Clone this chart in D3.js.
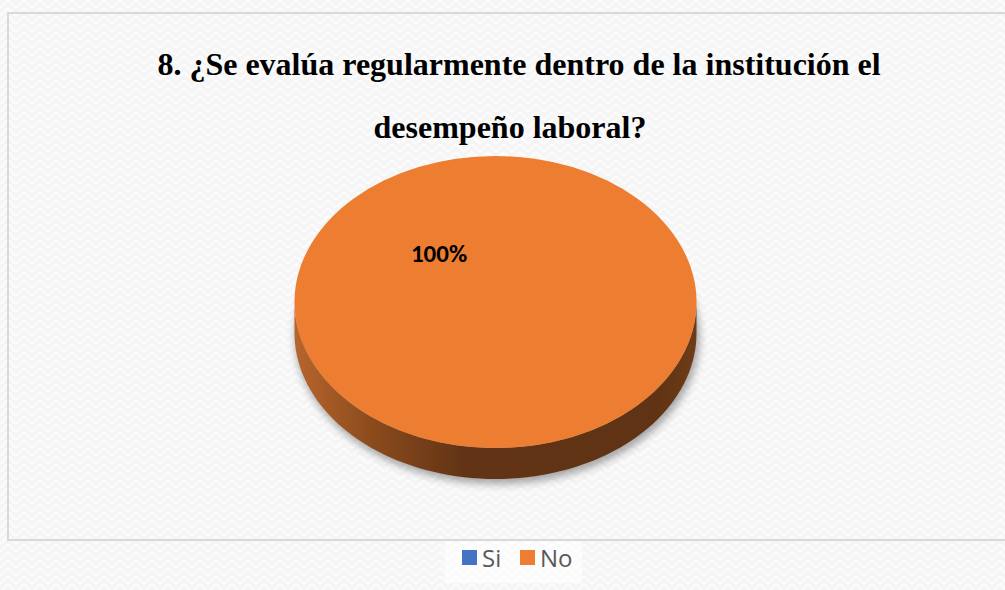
<!DOCTYPE html>
<html>
<head>
<meta charset="utf-8">
<script src="https://cdn.jsdelivr.net/npm/d3@7"></script>
<style>
  body { margin: 0; background: #fff; }
</style>
</head>
<body>
<div id="chart"></div>
<script>
const width = 1005, height = 590;

// chart data
const categories = ["Si", "No"];
const values = [0, 100];
const colors = ["#4472c4", "#ed7d31"];
const titleLines = ["8. ¿Se evalúa regularmente dentro de la institución el", "desempeño laboral?"];

const cx = 495.5, cy = 302, rx = 201, ry = 146, depth = 31;

const svg = d3.select('#chart').append('svg')
    .attr('width', width)
    .attr('height', height);

const defs = svg.append('defs');

// textured background
const pat = defs.append('pattern')
    .attr('id', 'bgpat')
    .attr('patternUnits', 'userSpaceOnUse')
    .attr('width', 16).attr('height', 16);
pat.append('rect').attr('width', 16).attr('height', 16).attr('fill', '#f5f5f5');
pat.append('path')
    .attr('d', 'M0,8 L8,0 L16,8 M0,16 L8,8 L16,16')
    .attr('stroke', '#fcfcfc').attr('stroke-width', 2.5).attr('fill', 'none');

const sideGrad = defs.append('linearGradient')
    .attr('id', 'side')
    .attr('x1', 0).attr('x2', 1).attr('y1', 0).attr('y2', 0);
[[0, '#b7652c'], [0.2, '#8a4a1c'], [0.42, '#623415'], [0.9, '#5f3314'], [1, '#6e3c17']]
    .forEach(([o, c]) => sideGrad.append('stop').attr('offset', o).attr('stop-color', c));

const blur = defs.append('filter').attr('id', 'shadow')
    .attr('x', '-10%').attr('y', '-10%').attr('width', '120%').attr('height', '130%');
blur.append('feGaussianBlur').attr('stdDeviation', 4);

svg.append('rect').attr('width', width).attr('height', height).attr('fill', 'url(#bgpat)');

// plot area border
svg.append('rect')
    .attr('x', 8).attr('y', 13)
    .attr('width', width + 10).attr('height', 527)
    .attr('fill', 'none')
    .attr('stroke', '#d9d9d9').attr('stroke-width', 2);

// title
svg.append('g').selectAll('text')
    .data(titleLines)
    .join('text')
    .attr('x', (d, i) => i === 0 ? 519 : 510)
    .attr('y', (d, i) => 75 + i * 63)
    .attr('text-anchor', 'middle')
    .attr('font-family', '"Liberation Serif", "Times New Roman", serif')
    .attr('font-weight', 'bold')
    .attr('font-size', 32)
    .attr('fill', '#000')
    .text(d => d);

// pie layout
const pie = d3.pie().sort(null).startAngle(0).endAngle(2 * Math.PI);
const arcs = pie(values).map((a, i) => ({...a, cat: categories[i], color: colors[i]}))
    .filter(a => a.endAngle > a.startAngle);
const total = d3.sum(values);

// point on ellipse for d3 angle (0 = top, clockwise)
const pt = (a, dy) => [cx + rx * Math.sin(a), cy - ry * Math.cos(a) + dy];

// shadow
svg.append('ellipse')
    .attr('cx', cx + 2).attr('cy', cy + depth + 4)
    .attr('rx', rx + 1).attr('ry', ry + 1)
    .attr('fill', 'rgba(0,0,0,0.35)')
    .attr('filter', 'url(#shadow)');

// sides: visible part is the lower half (angles PI/2 .. 3PI/2)
const line = d3.line();
arcs.forEach(a => {
    const s = Math.max(a.startAngle, Math.PI / 2);
    const e = Math.min(a.endAngle, 3 * Math.PI / 2);
    if (e <= s) return;
    const n = 80;
    const ang = d3.range(n + 1).map(k => s + (e - s) * k / n);
    const pts = ang.map(t => pt(t, 0)).concat(ang.slice().reverse().map(t => pt(t, depth)));
    svg.append('path')
        .attr('d', line(pts) + 'Z')
        .attr('fill', a.cat === 'No' ? 'url(#side)' : d3.color(a.color).darker(1.2));
});

// top faces
const arc = d3.arc().innerRadius(0).outerRadius(rx);
const topFace = svg.append('g').attr('transform', `translate(${cx},${cy}) scale(1,${ry / rx})`);
topFace.selectAll('path')
    .data(arcs)
    .join('path')
    .attr('d', arc)
    .attr('fill', d => d.color);

// data labels
svg.append('g').selectAll('text')
    .data(arcs)
    .join('text')
    .attr('x', 439)
    .attr('y', 262)
    .attr('text-anchor', 'middle')
    .attr('font-family', 'Carlito, "Liberation Sans", Arial, sans-serif')
    .attr('font-weight', 'bold')
    .attr('font-size', 25)
    .attr('fill', '#000')
    .text(d => Math.round(d.data / total * 100) + '%');

// legend
const lg = svg.append('g');
lg.append('rect')
    .attr('x', 445).attr('y', 542).attr('width', 137).attr('height', 41)
    .attr('fill', 'rgba(255,255,255,0.6)');
const items = lg.selectAll('g.item')
    .data(categories)
    .join('g')
    .attr('transform', (d, i) => `translate(${462 + i * 58},0)`);
items.append('rect')
    .attr('x', 0).attr('y', 550)
    .attr('width', 15).attr('height', 15)
    .attr('fill', (d, i) => colors[i]);
items.append('text')
    .attr('x', 20).attr('y', 567)
    .attr('font-family', '"Open Sans", "Noto Sans", sans-serif')
    .attr('font-size', 24)
    .attr('fill', '#595959')
    .text(d => d);
</script>
</body>
</html>
